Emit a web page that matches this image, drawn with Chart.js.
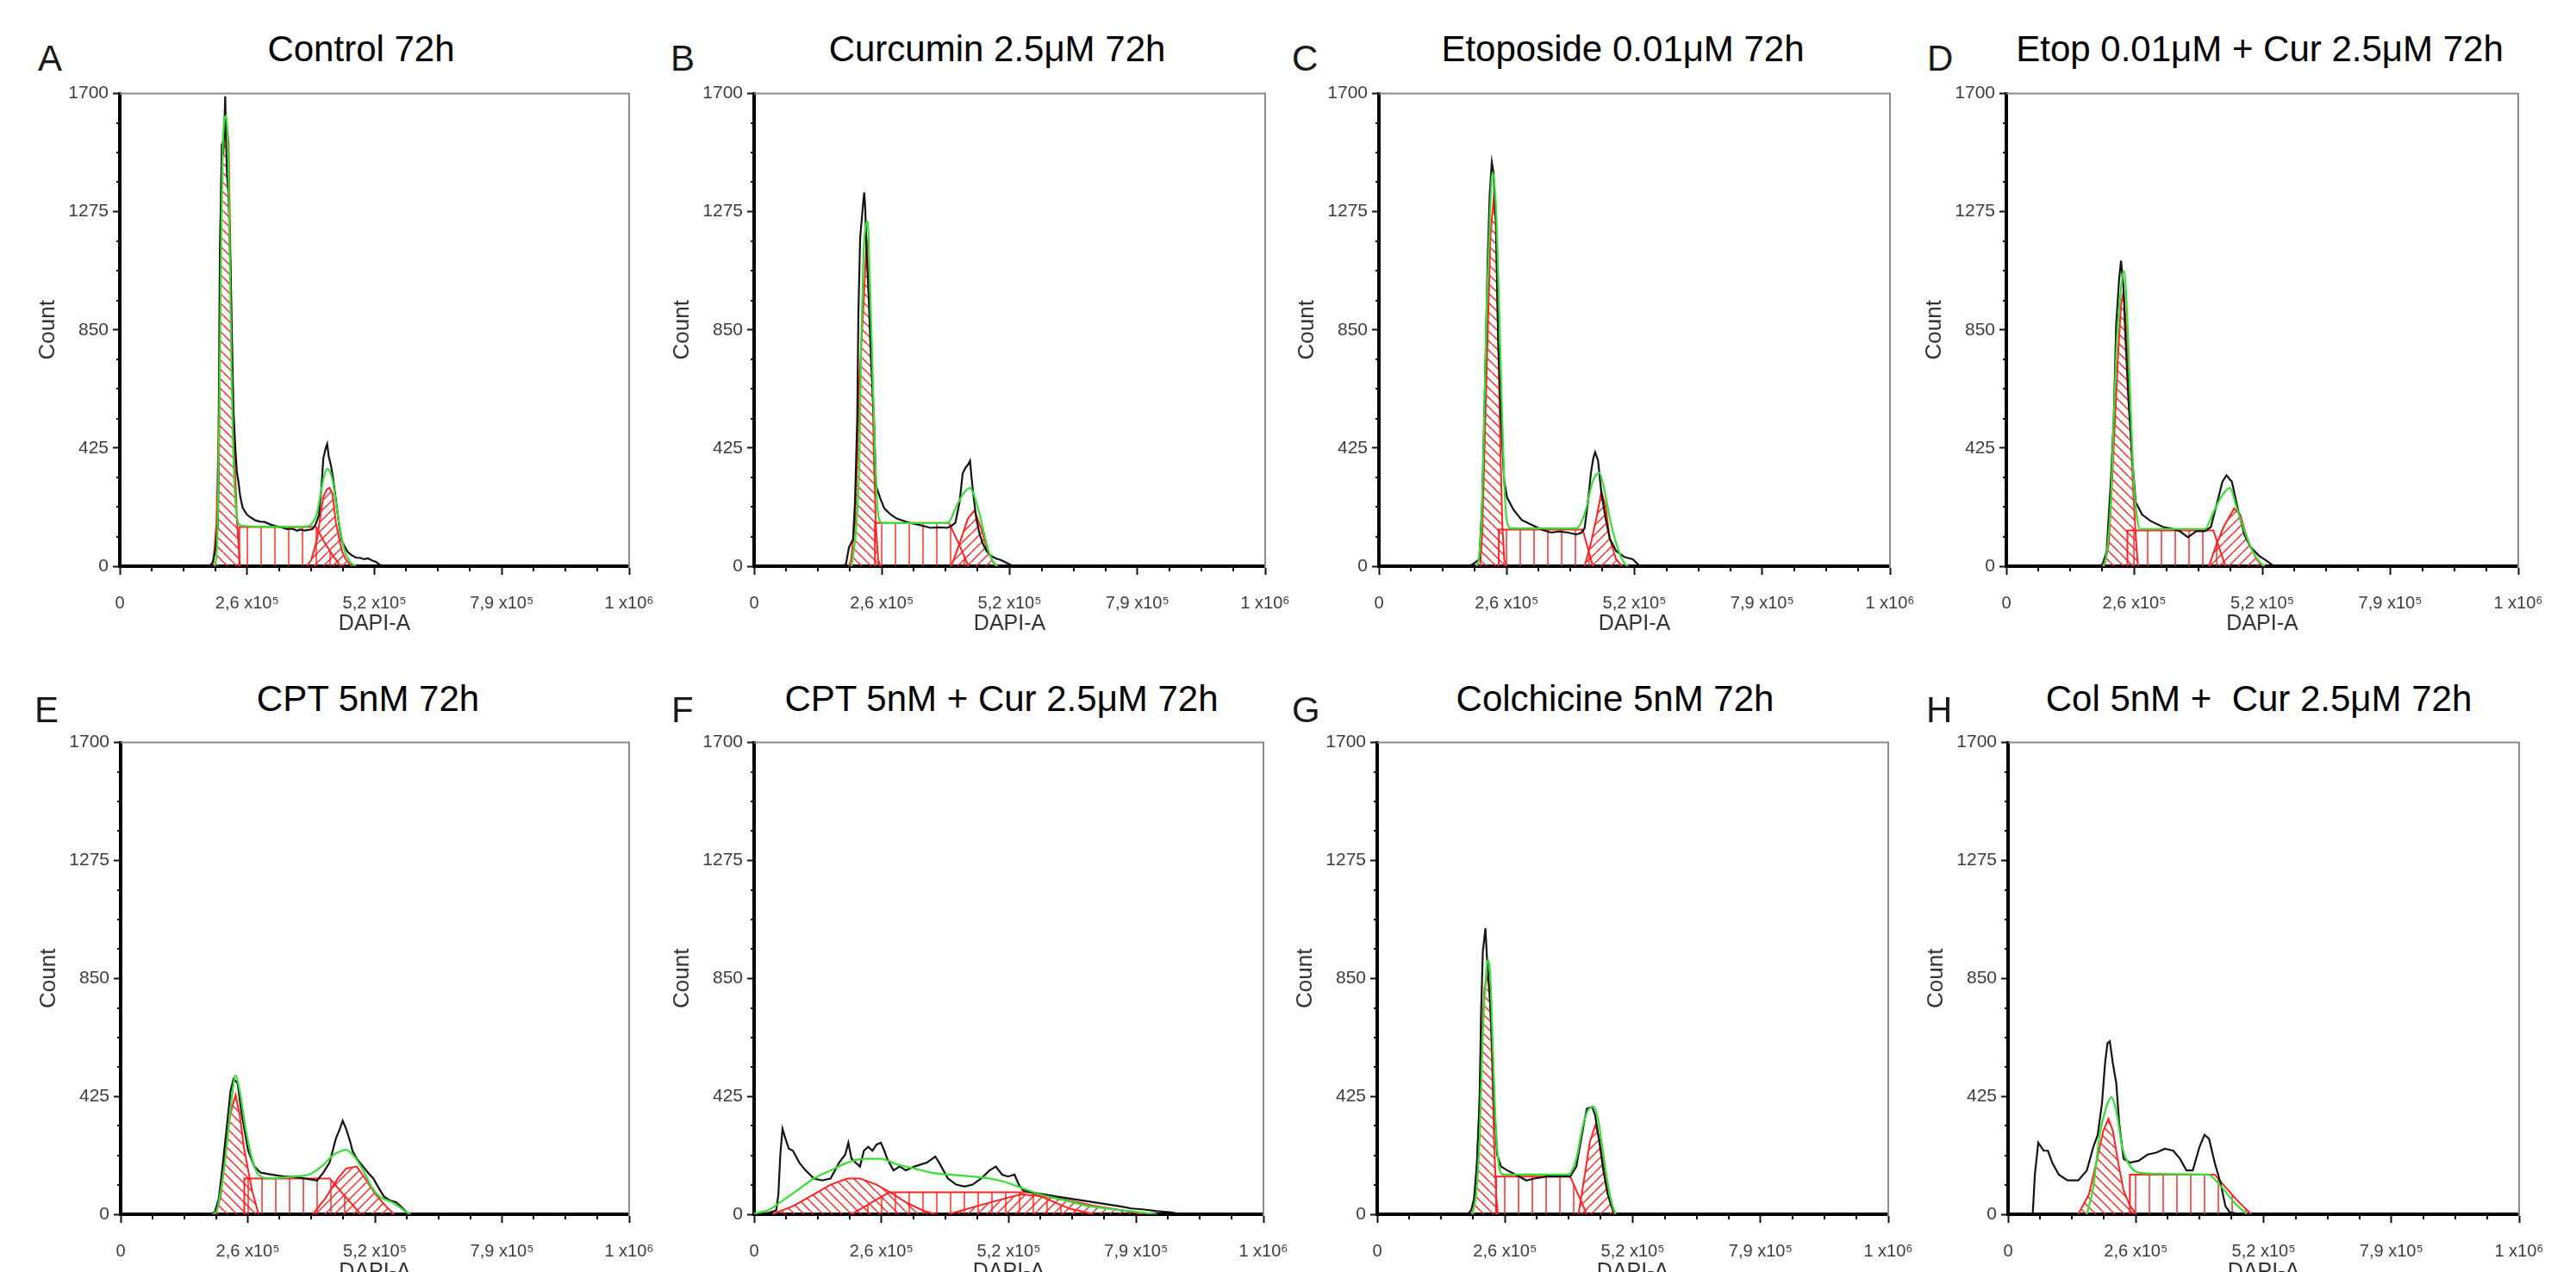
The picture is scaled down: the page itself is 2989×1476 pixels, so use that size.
<!DOCTYPE html>
<html><head><meta charset="utf-8">
<script src="https://cdn.jsdelivr.net/npm/chart.js@4.4.1/dist/chart.umd.min.js"></script>
<style>
html,body{margin:0;padding:0;background:#fff;overflow:hidden;}
body{width:2989px;height:1476px;position:relative;font-family:'Liberation Sans',Arial,'DejaVu Sans',sans-serif;}
canvas{position:absolute;}
.ttl{position:absolute;line-height:0;white-space:pre;transform:translateX(-50%);font-size:42px;color:#000;}
.lt{position:absolute;line-height:0;white-space:pre;font-size:42px;color:#1a1a1a;}
</style></head><body>
<script>
// ---------- text ----------
const letters = ['A','B','C','D','E','F','G','H'];
const titles = ['Control 72h','Curcumin 2.5\u03bcM 72h','Etoposide 0.01\u03bcM 72h','Etop 0.01\u03bcM + Cur 2.5\u03bcM 72h',
                'CPT 5nM 72h','CPT 5nM + Cur 2.5\u03bcM 72h','Colchicine 5nM 72h','Col 5nM +  Cur 2.5\u03bcM 72h'];
const xAxisTitle = 'DAPI-A';
const yAxisTitle = 'Count';
const X_MAX = 1048576;
const xTickValues = [0, 262144, 524288, 786432, 1048576];
const xTickLabels = ['0', '2,6 x10\u2075', '5,2 x10\u2075', '7,9 x10\u2075', '1 x10\u2076'];
const yTickValues = [0, 425, 850, 1275, 1700];
const yTickLabels = ['0', '425', '850', '1275', '1700'];
const xMinorStep = 65536;
const yMinorStep = 106.25;

// ---------- data: [DAPI-A in thousands, count] ----------
const A_hist = [[175,0],[186,3],[191,12],[197,61],[202,153],[204,400],[206,1126],[208,1300],[210,1519],[213,1480],[215,1560],[217,1690],[219,1520],[221,1400],[224,1330],[228,1060],[231,800],[234,560],[238,420],[241,340],[244,307],[248,250],[253,210],[262,185],[270,175],[280,164],[290,160],[298,159],[310,150],[320,145],[333,140],[344,134],[355,135],[365,128],[372,132],[380,128],[390,131],[397,134],[403,150],[410,183],[415,280],[419,388],[424,425],[427,440],[430,397],[435,360],[439,318],[444,250],[448,196],[453,130],[457,92],[463,70],[469,52],[477,40],[486,31],[495,30],[503,25],[511,28],[520,20],[528,15],[535,5],[545,0]];
const A_fit = [[195,0],[200,60],[203,300],[206,700],[209,1200],[212,1500],[215,1600],[218,1620],[221,1580],[224,1400],[227,1050],[230,700],[233,450],[237,260],[241,180],[246,150],[256,145],[300,142],[360,141],[385,143],[395,152],[405,185],[413,255],[420,320],[427,350],[433,340],[439,300],[445,230],[451,160],[457,100],[463,55],[469,30],[476,12],[486,0]];
const A_g1 = [[187,0],[193,22],[199,156],[202,378],[204.5,719],[206,1119],[210.5,1519],[217,1556],[222,1563],[224,1519],[228,1119],[232,674],[236,407],[241.5,156],[247.5,0]];
const A_s = [[246,0],[246,141],[404,141],[420,90],[440,35],[455,0]];
const A_g2 = [[385,0],[394,22],[406,96],[413,180],[419,250],[426,275],[432,282],[438,260],[445,156],[452,95],[458,52],[465,25],[471,12],[478,0]];

const B_hist = [[180,0],[188.5,7],[194.5,67],[203,97],[207,230],[211.6,527],[214,913],[217.6,1180],[221,1250],[224.5,1320],[226,1344],[228,1290],[231,1121],[235,973],[240,735],[246,527],[250,290],[258.7,245],[267,208],[280,186],[293,171],[318.7,156],[340,148],[361.5,138],[380,140],[396,138],[405,145],[413,156],[421.5,230],[428,334],[434,355],[438.6,364],[443,379],[447,304],[451,240],[456,171],[462,120],[469,82],[477,55],[486,37],[496,28],[507,22],[515,15],[524,7],[533,0]];
const B_fit = [[200,0],[210,150],[216,379],[220,824],[224.5,1121],[229,1225],[233,1240],[237,1047],[241.6,794],[248.5,379],[254.5,186],[263,156],[300,155],[360,155],[398,156],[413,208],[426,252],[436,275],[443,282],[449,265],[456,230],[463,185],[469,141],[475,95],[481.5,52],[488,25],[494,7],[500,0]];
const B_g1 = [[194.5,0],[199,22],[207,156],[211.6,379],[216,676],[224.5,943],[231,1180],[237,973],[241.6,750],[246,379],[250,141],[254.5,22],[258.7,0]];
const B_s = [[248,0],[248,156],[400,156],[420,80],[440,0]];
const B_g2 = [[404.5,0],[421.5,82],[438.6,171],[452,200],[465,141],[477,67],[490,15],[498.6,0]];

const C_hist = [[185,0],[194.8,10],[206,25],[212,232],[216,528],[219,750],[223,1090],[227.4,1342],[231.7,1453],[235,1416],[240,1238],[244.5,824],[250.6,528],[257,306],[263,247],[276,203],[293,166],[319,144],[336,130],[353.5,121],[370,125],[388,121],[405,114],[415,120],[422,136],[429,232],[435,336],[440,390],[443.6,410],[449.6,380],[456.5,262],[465,173],[473.7,99],[486.5,55],[503.7,33],[521,25],[533.7,3],[542,0]];
const C_fit = [[200,0],[206,40],[212,232],[216,528],[220.6,898],[225,1120],[233,1416],[240,1298],[246,972],[250.6,676],[257,306],[263,158],[272,136],[330,136],[405,136],[422,188],[439,306],[452,336],[460.6,291],[473.7,173],[486.5,84],[499,25],[507.6,3],[512,0]];
const C_g1 = [[207.6,0],[212,114],[216,380],[223,824],[229,1194],[235,1312],[240,1238],[244.5,824],[248.8,454],[253,158],[257,25],[261,0]];
const C_s = [[246,0],[246,132],[418,132],[439,0]];
const C_g2 = [[422,0],[435,84],[448,188],[456.5,269],[465,217],[473.7,99],[486.5,25],[499,0]];

const D_hist = [[190,0],[197,7],[205.4,52],[214,304],[220,527],[225,869],[231,1032],[235,1099],[240,1002],[244,824],[250,601],[257,408],[265,230],[278,186],[295,163],[321,141],[340,135],[355,126],[372,104],[389.5,126],[406.6,126],[419,141],[432,230],[442.6,304],[451,327],[462,304],[475,200],[488,111],[501,67],[518,37],[531,22],[548,0]];
const D_fit = [[198,0],[203,22],[208,82],[214,230],[220,527],[226.7,824],[235,1000],[241,1062],[248,884],[254,601],[261,304],[268,171],[274,134],[340,134],[406.6,134],[424,193],[441,252],[458,282],[471,215],[488,126],[505,52],[523,7],[530,0]];
const D_g1 = [[201,0],[210,82],[216.6,304],[222.6,527],[228.6,750],[235,943],[240,988],[245.7,854],[252.5,601],[259,304],[265,111],[269.6,0]];
const D_s = [[248,0],[248,129],[424,129],[449,0]];
const D_g2 = [[415,0],[428,67],[445,141],[466.6,208],[479,186],[496.5,82],[513.6,22],[526,0]];

const E_hist = [[185,0],[194,7],[202.5,57],[211,186],[219.7,329],[226.6,444],[232.6,487],[241,473],[250,358],[263,229],[275.7,172],[288.6,150],[310,143],[336,136],[353,136],[379,129],[405,122],[418,150],[430.8,186],[443.7,272],[452,308],[458,337],[465,308],[474,258],[478,229],[487,200],[500,172],[510,150],[521,129],[532,95],[543,64],[555,50],[568.6,43],[580,25],[590,7],[598,0]];
const E_fit = [[190,0],[198,14],[215,186],[228,401],[237,501],[245.6,444],[258.5,301],[271,200],[284,143],[310,129],[353,136],[388,143],[414,172],[440,215],[465,232],[482,208],[500,158],[517,100],[534,64],[560,43],[580,20],[590,7],[598,0]];
const E_g1 = [[196.5,0],[207,72],[215,215],[225.7,358],[237,430],[245.6,358],[254,243],[263,158],[271,86],[280,29],[284,0]];
const E_s = [[255,0],[255,129],[431,129],[460,70],[495,0]];
const E_g2 = [[396,0],[422,57],[448,129],[465,165],[487,172],[504,129],[525.6,72],[547,29],[564,0]];

const F_hist = [[0,2],[30,5],[45.6,14],[50,72],[54,215],[58.5,308],[64.6,272],[71.5,236],[80,229],[93,186],[106,158],[123,129],[140,122],[157.5,129],[175,186],[187.7,215],[194,258],[200.6,200],[209,186],[218,172],[226,229],[235,243],[243.6,229],[252,251],[261,258],[268,229],[274,200],[287,158],[299.6,172],[312.5,158],[330,172],[355.6,186],[373,208],[381,186],[399,129],[416,107],[433,100],[450,107],[467.5,129],[484.7,158],[497.6,172],[510.5,143],[523,136],[536,143],[545,107],[553.6,86],[570.8,79],[596.6,72],[622,64],[648,57],[674,50],[700,43],[725.7,36],[751.6,29],[777,21],[803,17],[829,11],[859,7],[881,0]];
const F_fit = [[0,3],[28,14],[54,43],[88.6,86],[123,129],[157.5,158],[192,186],[226,200],[261,200],[295,179],[330,165],[364,150],[399,143],[450,136],[484.7,129],[519,115],[553.6,93],[588,72],[622,57],[657,43],[691,29],[725.7,21],[760,14],[794.6,7],[829,0]];
const F_g1 = [[37,0],[80,29],[123,72],[157.5,107],[192,129],[218,129],[252,107],[287,72],[312.5,43],[347,14],[373,0]];
const F_s = [[200,0],[278,79],[571,79],[650,20],[700,0]];
const F_g2 = [[400,0],[480,40],[550,72],[620,60],[700,30],[780,8],[800,0]];

const G_hist = [[185,0],[192.7,14],[198.8,57],[204.7,186],[210,401],[213,716],[216.7,945],[222,1031],[225,931],[230.5,802],[235.6,616],[240,401],[246,215],[254,172],[267,158],[284,143],[306,122],[323,129],[348.7,136],[374,136],[396,136],[408.6,172],[421.5,301],[430,380],[441,387],[447,358],[456,258],[464,158],[472.9,72],[481,29],[487.5,0]];
const G_fit = [[194.5,0],[203,72],[210,272],[216,616],[222,831],[227,916],[232,859],[237,616],[243,329],[250,172],[258.7,143],[320,143],[391.5,143],[408.6,200],[421.5,315],[434.6,380],[445,387],[453,344],[464,215],[477,72],[487.5,7],[490,0]];
const G_g1 = [[196,0],[203,115],[208,329],[214,616],[220,816],[227,859],[232,759],[235.6,544],[240,258],[244,72],[247.6,0]];
const G_s = [[244,0],[244,136],[396,136],[430,0]];
const G_g2 = [[413,0],[426,143],[436,258],[447.6,322],[456,272],[469,129],[477.6,43],[486,0]];

const H_hist = [[50.6,0],[55,143],[62,258],[73,229],[81.8,229],[90.6,186],[104,143],[121.7,122],[144,122],[161.7,158],[175,243],[184,286],[192.8,401],[199,544],[204,616],[208.8,623],[215,544],[222,473],[228,329],[237,200],[250.6,186],[268,193],[286,215],[304,222],[321.7,236],[339,229],[352.8,200],[366,158],[379,158],[392.8,243],[403,286],[412.4,272],[424,186],[435.6,115],[446,29],[455,7],[481.6,0]];
const H_fit = [[161.7,0],[175,100],[188,286],[201.7,387],[212,422],[223.6,358],[234,243],[246,186],[268,150],[330,145],[410,143],[437,100],[464,43],[490,0]];
const H_g1 = [[144,0],[166,72],[181,186],[195.5,301],[206,344],[215,301],[226,186],[237,86],[250.6,29],[264,0]];
const H_s = [[250,0],[250,143],[424,143],[440,110],[470,50],[499,0]];
const H_g2 = [];

const histSeries = [A_hist,B_hist,C_hist,D_hist,E_hist,F_hist,G_hist,H_hist];
const fitSeries  = [A_fit,B_fit,C_fit,D_fit,E_fit,F_fit,G_fit,H_fit];
const g1Series   = [A_g1,B_g1,C_g1,D_g1,E_g1,F_g1,G_g1,H_g1];
const sSeries    = [A_s,B_s,C_s,D_s,E_s,F_s,G_s,H_s];
const g2Series   = [A_g2,B_g2,C_g2,D_g2,E_g2,F_g2,G_g2,H_g2];

// ---------- layout ----------
const FONT = "'Liberation Sans', Arial, 'DejaVu Sans', sans-serif";
const boxes = [
  {l:139,r:730,t:101,b:657},{l:875,r:1468,t:101,b:657},{l:1600,r:2193,t:101,b:657},{l:2328,r:2922,t:101,b:657},
  {l:140,r:730,t:854,b:1409},{l:875,r:1466,t:854,b:1409},{l:1598,r:2191,t:854,b:1409},{l:2330,r:2923,t:854,b:1409}
];
const titlePos = [[419,57],[1157,57],[1883,57],[2622,57],[427,811],[1162,811],[1874,811],[2621,811]];
const letterPos = [[44,68],[778,68],[1499,68],[2236,68],[40,824],[779,824],[1499,824],[2235,824]];

// ---------- patterns ----------
function makePattern(kind){
  const c = document.createElement('canvas');
  const s = kind === 'v' ? 16 : 11;
  c.width = s; c.height = kind === 'v' ? 8 : s;
  const g = c.getContext('2d');
  g.strokeStyle = 'rgba(255,30,30,0.95)'; g.lineWidth = 1.5;
  g.beginPath();
  if (kind === 'v') { g.moveTo(s/2, 0); g.lineTo(s/2, c.height); }
  else if (kind === 'b') { for (let k=-1;k<=1;k++){ g.moveTo(k*s,0); g.lineTo(k*s+s,s);} }
  else { for (let k=-1;k<=1;k++){ g.moveTo(k*s,s); g.lineTo(k*s+s,0);} }
  g.stroke();
  return g.createPattern(c, 'repeat');
}
const toXY = arr => arr.map(p => ({x: p[0]*1000, y: p[1]}));

const framePlugin = {
  id: 'frame',
  afterDraw(chart){
    const {ctx, chartArea: a, scales: {x, y}} = chart;
    ctx.save();
    ctx.strokeStyle = '#8c8c8c'; ctx.lineWidth = 2;
    ctx.beginPath(); ctx.moveTo(a.left, a.top); ctx.lineTo(a.right, a.top); ctx.lineTo(a.right, a.bottom + 2); ctx.stroke();
    ctx.strokeStyle = '#111'; ctx.lineWidth = 2;
    ctx.beginPath();
    for (let v = xMinorStep; v < X_MAX; v += xMinorStep) {
      if (v % 262144 === 0) continue;
      const px = Math.round(x.getPixelForValue(v));
      ctx.moveTo(px, a.bottom); ctx.lineTo(px, a.bottom + 6);
    }
    for (let v = yMinorStep; v < 1700; v += yMinorStep) {
      if (Math.abs(v % 425) < 1e-6) continue;
      const py = Math.round(y.getPixelForValue(v));
      ctx.moveTo(a.left - 4, py); ctx.lineTo(a.left, py);
    }
    ctx.stroke();
    ctx.restore();
  }
};

function addText(cls, txt, x, y){
  const d = document.createElement('div');
  d.className = cls; d.textContent = txt;
  d.style.left = x + 'px'; d.style.top = y + 'px';
  document.body.appendChild(d);
}

function makeChart(i){
  const box = boxes[i];
  const YW = 100, TP = 10, RP = 50, XH = 80;
  const W = box.r - box.l, H = box.b - box.t;
  const cv = document.createElement('canvas');
  cv.width = YW + W + RP; cv.height = TP + H + XH;
  cv.style.left = (box.l - YW) + 'px'; cv.style.top = (box.t - TP) + 'px';
  cv.style.width = cv.width + 'px'; cv.style.height = cv.height + 'px';
  document.body.appendChild(cv);
  const red = '#ff2323';
  new Chart(cv, {
    type: 'line',
    data: { datasets: [
      {label:'Fit', data: toXY(fitSeries[i]), borderColor:'#35e035', borderWidth:2.2, fill:false, order:0, cubicInterpolationMode:'monotone', tension:0.4},
      {label:'DAPI-A', data: toXY(histSeries[i]), borderColor:'#141414', borderWidth:2.2, fill:false, order:1},
      {label:'G1', data: toXY(g1Series[i]), borderColor:red, borderWidth:2, backgroundColor: makePattern('b'), fill:'origin', order:2},
      {label:'S', data: toXY(sSeries[i]), borderColor:red, borderWidth:2, backgroundColor: makePattern('v'), fill:'origin', order:3},
      {label:'G2', data: toXY(g2Series[i]), borderColor:red, borderWidth:2, backgroundColor: makePattern('f'), fill:'origin', order:4}
    ]},
    options: {
      responsive:false, maintainAspectRatio:false, animation:false, devicePixelRatio:1, events:[],
      layout:{autoPadding:false, padding:{left:0, top:TP, right:RP, bottom:0}},
      plugins:{legend:{display:false}, tooltip:{enabled:false}, title:{display:false}},
      elements:{point:{radius:0}, line:{tension:0}},
      scales:{
        x:{type:'linear', min:0, max:X_MAX,
          afterFit: s => { s.height = XH; },
          afterBuildTicks: s => { s.ticks = xTickValues.map(v => ({value:v})); },
          ticks:{autoSkip:false, maxRotation:0, minRotation:0, padding:21, color:'#3c3c3c',
                 font:{family:FONT, size:20}, callback:(v, k) => xTickLabels[k]},
          grid:{drawOnChartArea:false, drawTicks:true, tickLength:10, tickColor:'#111', tickWidth:2},
          border:{display:true, color:'#000', width:4},
          title:{display:true, text:xAxisTitle, color:'#333', font:{family:FONT, size:25, lineHeight:1}, padding:{top:0, bottom:0}}
        },
        y:{type:'linear', min:0, max:1700,
          afterFit: s => { s.width = YW; },
          afterBuildTicks: s => { s.ticks = yTickValues.map(v => ({value:v})); },
          ticks:{autoSkip:false, padding:5, color:'#3c3c3c', font:{family:FONT, size:21}, callback:(v, k) => yTickLabels[k]},
          grid:{drawOnChartArea:false, drawTicks:true, tickLength:8, tickColor:'#111', tickWidth:2},
          border:{display:true, color:'#000', width:4},
          title:{display:true, text:yAxisTitle, color:'#333', font:{family:FONT, size:26, lineHeight:1}, padding:{top:4, bottom:0}}
        }
      }
    },
    plugins:[framePlugin]
  });
}

for (let i = 0; i < 8; i++) {
  makeChart(i);
  addText('ttl', titles[i], titlePos[i][0], titlePos[i][1]);
  addText('lt', letters[i], letterPos[i][0], letterPos[i][1]);
}
</script>
</body></html>
